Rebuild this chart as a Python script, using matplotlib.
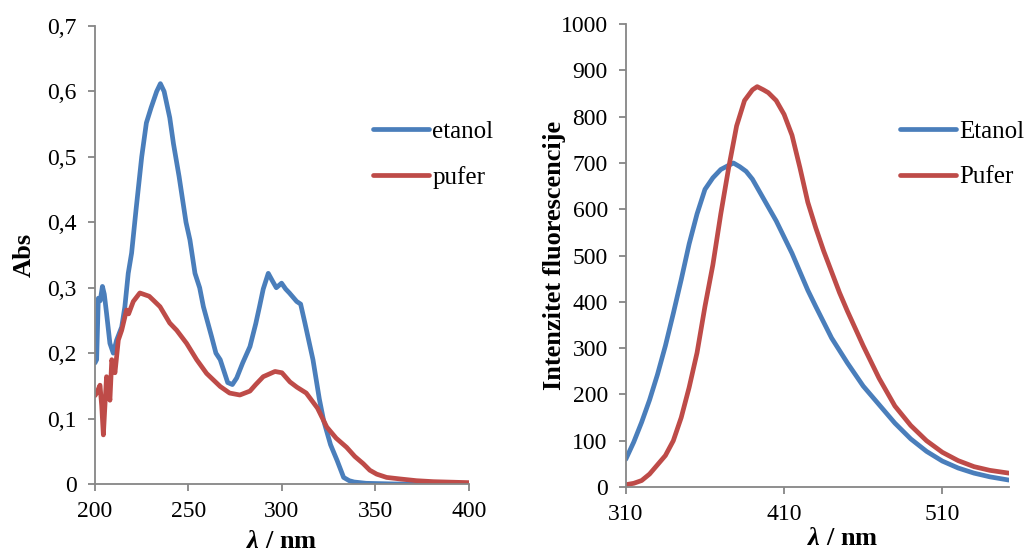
import matplotlib
matplotlib.use("Agg")
import matplotlib.pyplot as plt
from matplotlib.ticker import FuncFormatter, MultipleLocator

plt.rcParams['font.family'] = ['Liberation Serif', 'DejaVu Serif']
plt.rcParams['mathtext.fontset'] = 'custom'
plt.rcParams['mathtext.rm'] = 'Liberation Serif'
plt.rcParams['mathtext.bf'] = 'Liberation Serif:bold'
plt.rcParams['mathtext.bfit'] = 'Liberation Serif:italic:bold'

BLUE = '#4A7EBB'
RED = '#BE4B48'
GRAY = '#868686'

# UV-Vis absorption spectra
abs_eta_x = [200, 200.9, 201.8, 202.8, 204, 205, 206.2, 208, 209.8, 211.6, 214.3, 216, 217.8,
             219.6, 222, 225, 227.5, 230, 233, 235, 237, 240, 242, 245, 248.7, 250.8, 253.5,
             256, 258, 262.4, 264.7, 267, 271, 273.5, 275.8, 279, 282.9, 286, 288, 290, 292.7,
             295, 297, 299.8, 302, 304, 307.9, 310, 312.3, 316.6, 320, 322.3, 326, 329.5, 333,
             336, 338.6, 345, 360, 380, 400]
abs_eta_y = [0.185, 0.19, 0.284, 0.28, 0.302, 0.29, 0.261, 0.215, 0.2, 0.22, 0.24, 0.271, 0.322,
             0.353, 0.42, 0.5, 0.552, 0.575, 0.6, 0.612, 0.6, 0.56, 0.52, 0.47, 0.4, 0.373, 0.322,
             0.3, 0.271, 0.225, 0.2, 0.19, 0.155, 0.152, 0.162, 0.185, 0.21, 0.245, 0.271, 0.298,
             0.322, 0.31, 0.3, 0.307, 0.298, 0.292, 0.279, 0.275, 0.246, 0.19, 0.13, 0.097, 0.06,
             0.036, 0.01, 0.005, 0.003, 0.001, 0.0, 0.0, 0.0]
abs_puf_x = [200, 200.9, 202.7, 203.6, 204.5, 205.3, 206.2, 207, 208, 209, 210.7, 212.5, 214.3,
             216.9, 218, 220.5, 224, 229, 231.2, 234.8, 240, 243.7, 249, 254.4, 259.7, 267, 272,
             277.5, 282.9, 286, 290, 296.3, 300, 304.3, 308, 313, 319, 324, 329, 334.6, 339,
             343.5, 347, 350.7, 356, 363.4, 372, 381, 390, 400]
abs_puf_y = [0.135, 0.139, 0.151, 0.12, 0.075, 0.118, 0.164, 0.15, 0.128, 0.19, 0.17, 0.22, 0.235,
             0.266, 0.26, 0.279, 0.292, 0.287, 0.281, 0.271, 0.246, 0.235, 0.215, 0.19, 0.169,
             0.149, 0.139, 0.136, 0.142, 0.152, 0.164, 0.172, 0.17, 0.156, 0.148, 0.139, 0.116,
             0.087, 0.07, 0.056, 0.042, 0.031, 0.021, 0.015, 0.01, 0.0076, 0.005, 0.0035, 0.0028,
             0.002]

# fluorescence spectra
fl_eta_x = [310, 315, 320, 325, 330, 335, 340, 345, 350, 355, 360, 365, 370, 375, 378, 382, 386,
            390, 395, 400, 405, 410, 415, 420, 425, 430, 440, 450, 460, 470, 480, 490, 500, 510,
            520, 530, 540, 552]
fl_eta_y = [60, 97, 140, 188, 243, 305, 375, 448, 525, 590, 643, 668, 686, 695, 700, 692, 682,
            665, 635, 605, 575, 540, 505, 465, 425, 390, 322, 268, 218, 178, 138, 104, 77, 56,
            41, 30, 22, 15]
fl_puf_x = [310, 315, 320, 325, 330, 335, 340, 345, 350, 355, 360, 365, 370, 375, 380, 385, 390,
            393, 397, 400, 405, 410, 415, 420, 425, 430, 435, 440, 445, 450, 460, 470, 480, 490,
            500, 510, 520, 530, 540, 552]
fl_puf_y = [5, 8, 14, 28, 48, 68, 100, 150, 215, 290, 390, 480, 590, 690, 780, 835, 858, 865, 858,
            852, 835, 805, 760, 690, 615, 560, 510, 465, 420, 380, 305, 235, 175, 133, 100, 75,
            57, 44, 36, 30]

fig = plt.figure(figsize=(10.31, 5.55), dpi=100)
ax1 = fig.add_axes([0.0921, 0.128, 0.3627, 0.825])
ax2 = fig.add_axes([0.607, 0.1225, 0.3715, 0.834])

comma = FuncFormatter(lambda v, p: ('%g' % round(v, 2)).replace('.', ','))

for ax in (ax1, ax2):
    for s in ('top', 'right'):
        ax.spines[s].set_visible(False)
    for s in ('left', 'bottom'):
        ax.spines[s].set_color(GRAY)
        ax.spines[s].set_linewidth(1.3)
    ax.tick_params(colors=GRAY, labelcolor='black', labelsize=17, width=1.3, length=5,
                   direction='out')
    ax.tick_params(axis='x', pad=7)
    ax.tick_params(axis='y', pad=8)

leg_kw = dict(loc='upper left', bbox_transform=fig.transFigure, frameon=False, fontsize=18,
              handlelength=2.25, handletextpad=0.12, labelspacing=0.92, borderpad=0,
              borderaxespad=0)

ax1.plot(abs_eta_x, abs_eta_y, color=BLUE, lw=3.4, label='etanol', solid_capstyle='round')
ax1.plot(abs_puf_x, abs_puf_y, color=RED, lw=3.4, label='pufer', solid_capstyle='round')
ax1.set_xlim(200, 400)
ax1.set_ylim(0, 0.7)
ax1.xaxis.set_major_locator(MultipleLocator(50))
ax1.yaxis.set_major_locator(MultipleLocator(0.1))
ax1.yaxis.set_major_formatter(comma)
ax1.set_ylabel('Abs', fontsize=19, fontweight='bold')
ax1.yaxis.set_label_coords(-0.158, 0.5)
ax1.set_xlabel(r'$\mathbfit{λ}$ / nm', fontsize=19, fontweight='bold')
ax1.xaxis.set_label_coords(0.5, -0.1)
ax1.legend(bbox_to_anchor=(0.362, 0.783), **leg_kw)

ax2.plot(fl_eta_x, fl_eta_y, color=BLUE, lw=3.4, label='Etanol', solid_capstyle='round')
ax2.plot(fl_puf_x, fl_puf_y, color=RED, lw=3.4, label='Pufer', solid_capstyle='round')
ax2.set_xlim(310, 552)
ax2.set_ylim(0, 1000)
ax2.set_xticks([310, 410, 510])
ax2.yaxis.set_major_locator(MultipleLocator(100))
ax2.set_ylabel('Intenzitet fluorescencije', fontsize=19, fontweight='bold')
ax2.yaxis.set_label_coords(-0.157, 0.5)
ax2.set_xlabel(r'$\mathbfit{λ}$ / nm', fontsize=19, fontweight='bold')
ax2.xaxis.set_label_coords(0.567, -0.087)
ax2.legend(bbox_to_anchor=(0.873, 0.783), **leg_kw)

fig.savefig('out.png', dpi=100)
